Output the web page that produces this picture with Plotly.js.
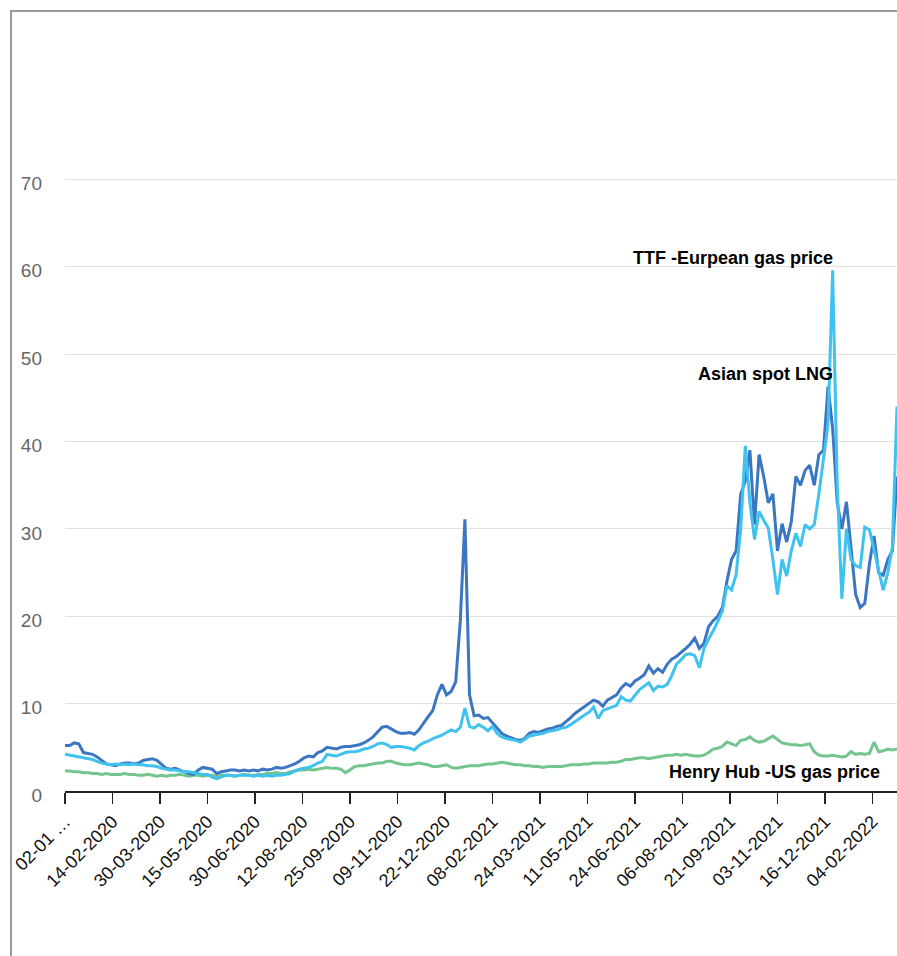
<!DOCTYPE html>
<html>
<head>
<meta charset="utf-8">
<script src="https://cdn.plot.ly/plotly-3.0.1.min.js"></script>
<style>
  html, body { margin: 0; padding: 0; background: #fff; }
  #wrap { position: relative; width: 897px; height: 956px; overflow: hidden; }
  #chart { position: absolute; left: 0; top: 0; width: 897px; height: 956px; }
  #frame { position: absolute; left: 10px; top: 10px; width: 1000px; height: 1000px;
           border-left: 2px solid #9a9a9a; border-top: 2px solid #9a9a9a; pointer-events: none; }
</style>
</head>
<body>
<div id="wrap"><div id="chart"></div><div id="frame"></div></div>
<script>
// Trading-day tick labels (one label every 31 trading days)
const tickLabels = ["02-01 \u2026","14-02-2020","30-03-2020","15-05-2020","30-06-2020","12-08-2020",
  "25-09-2020","09-11-2020","22-12-2020","08-02-2021","24-03-2021","11-05-2021","24-06-2021",
  "06-08-2021","21-09-2021","03-11-2021","16-12-2021","04-02-2022"];
const tickStep = 31;      // trading days between labels
const sampleStep = 3;     // trading days between stored values
const lastDay = 543;      // last trading-day index shown

// Asian spot LNG (USD/MMBtu), sampled every 3 trading days
const asianLNG = [
 5.2,5.2,5.5,5.4,4.4,4.3,4.2,3.9,3.5,3.1,
 3.0,2.9,3.1,3.2,3.2,3.1,3.2,3.5,3.6,3.7,
 3.5,3.0,2.6,2.5,2.6,2.4,2.2,2.0,1.9,2.4,
 2.7,2.6,2.5,2.0,2.2,2.3,2.4,2.4,2.3,2.4,
 2.3,2.4,2.3,2.5,2.4,2.5,2.7,2.6,2.7,2.9,
 3.1,3.4,3.8,4.0,3.9,4.4,4.6,5.0,4.9,4.8,
 5.0,5.1,5.1,5.2,5.3,5.5,5.8,6.2,6.8,7.3,
 7.4,7.1,6.8,6.6,6.6,6.7,6.5,7.0,7.8,8.5,
 9.2,11.0,12.2,11.0,11.4,12.5,19.5,31.1,11.0,8.6,
 8.7,8.3,8.4,7.8,7.3,6.6,6.3,6.1,5.9,5.8,
 6.0,6.6,6.8,6.7,6.9,7.1,7.2,7.4,7.5,7.9,
 8.4,8.9,9.3,9.6,10.0,10.4,10.2,9.7,10.4,10.7,
 11.0,11.8,12.3,12.0,12.6,12.9,13.3,14.3,13.5,14.0,
 13.6,14.5,15.1,15.4,15.8,16.3,16.8,17.5,16.3,16.9,
 18.8,19.5,20.0,21.0,24.0,26.5,27.5,34.0,35.5,39.0,
 30.5,38.5,36.0,33.0,34.0,27.5,30.6,28.5,30.8,36.0,
 35.0,36.7,37.3,35.0,38.5,39.0,46.3,41.5,33.0,30.0,
 33.1,28.0,22.5,21.0,21.5,26.0,29.2,25.0,24.7,26.5,
 27.5,36.0];

// TTF - European gas price (USD/MMBtu)
const ttf = [
 4.2,4.1,4.0,3.9,3.8,3.7,3.6,3.4,3.2,3.1,
 3.0,3.1,3.0,3.1,3.0,3.1,3.0,3.0,2.9,2.9,
 2.8,2.6,2.5,2.4,2.4,2.3,2.2,2.2,2.1,2.0,
 1.9,1.9,1.6,1.4,1.6,1.8,1.8,1.7,1.8,1.8,
 1.8,1.7,1.8,1.7,1.8,1.7,1.8,1.8,1.9,2.0,
 2.3,2.5,2.6,2.7,2.9,3.2,3.4,4.2,4.1,4.0,
 4.2,4.4,4.5,4.5,4.6,4.8,4.9,5.1,5.4,5.5,
 5.3,5.0,5.1,5.1,5.0,4.9,4.7,5.2,5.5,5.7,
 6.0,6.2,6.4,6.7,7.0,6.8,7.3,9.5,7.4,7.2,
 7.6,7.3,6.9,7.4,6.6,6.2,6.0,5.9,5.8,5.6,
 5.9,6.3,6.4,6.5,6.6,6.8,6.9,7.0,7.2,7.3,
 7.6,8.0,8.3,8.7,9.0,9.6,8.3,9.2,9.4,9.6,
 9.8,10.8,10.4,10.3,11.0,11.6,12.0,12.4,11.5,12.0,
 11.9,12.2,13.2,14.5,15.0,15.6,15.7,15.5,14.1,16.3,
 17.4,18.3,19.4,20.6,23.5,23.0,24.8,30.0,39.5,33.0,
 28.8,32.0,31.0,30.1,26.5,22.5,26.5,24.6,27.5,29.5,
 28.0,30.5,30.0,30.5,34.0,38.0,42.0,59.6,35.0,22.0,
 30.0,26.5,25.8,25.6,30.2,29.9,27.5,25.5,23.0,25.0,
 28.0,44.0];

// Henry Hub - US gas price (USD/MMBtu)
const henryHub = [
 2.3,2.3,2.2,2.2,2.1,2.1,2.0,2.0,1.9,2.0,
 1.9,1.9,1.9,2.0,1.9,1.9,1.8,1.8,1.9,1.8,
 1.7,1.8,1.7,1.8,1.8,1.9,1.8,1.7,1.8,1.8,
 1.7,1.8,1.8,1.7,1.8,1.8,1.8,1.7,1.8,1.9,
 1.8,1.8,1.9,1.9,2.0,2.0,2.1,2.0,2.0,2.2,
 2.3,2.4,2.4,2.5,2.4,2.5,2.6,2.7,2.6,2.6,
 2.5,2.1,2.4,2.8,2.9,2.9,3.0,3.1,3.2,3.2,
 3.4,3.4,3.2,3.1,3.0,3.0,3.1,3.2,3.1,3.0,
 2.8,2.8,2.9,3.0,2.7,2.6,2.7,2.8,2.9,2.9,
 2.9,3.0,3.1,3.1,3.2,3.3,3.2,3.1,3.0,3.0,
 2.9,2.9,2.8,2.8,2.7,2.8,2.8,2.8,2.8,2.9,
 3.0,3.0,3.0,3.1,3.1,3.2,3.2,3.2,3.2,3.3,
 3.3,3.4,3.6,3.6,3.7,3.8,3.8,3.7,3.8,3.9,
 4.0,4.1,4.1,4.2,4.1,4.2,4.1,4.0,4.0,4.1,
 4.4,4.8,4.9,5.1,5.6,5.4,5.2,5.8,5.9,6.2,
 5.8,5.6,5.7,6.0,6.3,5.9,5.5,5.4,5.3,5.3,
 5.2,5.3,5.4,4.5,4.1,4.0,4.0,4.1,4.0,3.9,
 4.0,4.5,4.2,4.3,4.2,4.3,5.6,4.5,4.6,4.8,
 4.7,4.8];

function days(arr) { return arr.map((_, k) => k * sampleStep); }

const traces = [
  { type: 'scatter', mode: 'lines', hoverinfo: 'skip', x: days(henryHub), y: henryHub, name: 'Henry Hub', line: { width: 3, color: '#74c48e' } },
  { type: 'scatter', mode: 'lines', hoverinfo: 'skip', x: days(asianLNG), y: asianLNG, name: 'Asian spot LNG', line: { width: 3, color: '#3b76c2' } },
  { type: 'scatter', mode: 'lines', hoverinfo: 'skip', x: days(ttf), y: ttf, name: 'TTF', line: { width: 3, color: '#40c2ef' } }
];

const annFont = { family: 'Liberation Sans, Arial, sans-serif', size: 18, color: '#000' };
const layout = {
  width: 897, height: 956,
  margin: { l: 65, r: 0, t: 162, b: 165, pad: 0 },
  paper_bgcolor: '#fff', plot_bgcolor: '#fff',
  showlegend: false,
  xaxis: {
    type: 'linear', range: [0, lastDay],
    tickmode: 'array',
    tickvals: tickLabels.map((_, j) => j * tickStep),
    ticktext: tickLabels,
    tickangle: -45,
    ticks: 'outside', ticklen: 11, tickwidth: 1.5, tickcolor: '#222',
    showline: true, linecolor: '#222', linewidth: 2,
    showgrid: false, zeroline: false,
    tickfont: { family: 'Liberation Sans, Arial, sans-serif', size: 18, color: '#111' }
  },
  yaxis: {
    range: [0, 72],
    tickmode: 'array', tickvals: [0, 10, 20, 30, 40, 50, 60, 70],
    ticks: '', showline: false, zeroline: false,
    showgrid: true, gridcolor: '#e0e0e0', gridwidth: 1,
    ticklabelstandoff: 22,
    ticklabelshift: 4,
    tickfont: { family: 'Liberation Sans, Arial, sans-serif', size: 19, color: '#666' }
  },
  annotations: [
    { text: '<b>TTF -Eurpean gas price</b>', xref: 'x', yref: 'y', x: 502.5, y: 61.0, xanchor: 'right', yanchor: 'middle', showarrow: false, font: annFont },
    { text: '<b>Asian spot LNG</b>', xref: 'x', yref: 'y', x: 502.5, y: 47.7, xanchor: 'right', yanchor: 'middle', showarrow: false, font: annFont },
    { text: '<b>Henry Hub -US gas price</b>', xref: 'x', yref: 'y', x: 533.2, y: 2.2, xanchor: 'right', yanchor: 'middle', showarrow: false, font: annFont }
  ]
};

Plotly.newPlot('chart', traces, layout, { staticPlot: true, displayModeBar: false });
</script>
</body>
</html>
